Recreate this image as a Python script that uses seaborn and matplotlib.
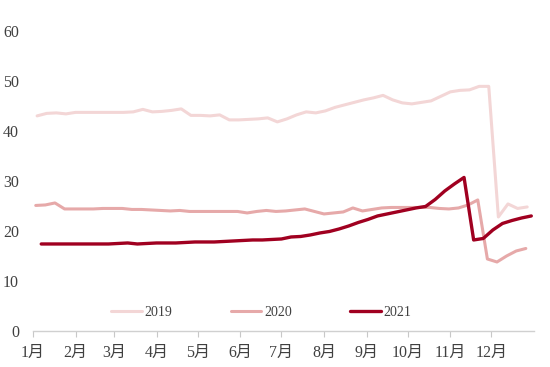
import matplotlib
matplotlib.use("Agg")
import matplotlib.pyplot as plt
import numpy as np
import pandas as pd
import seaborn as sns

# weekly data, first observation date of each year
start_dates = {"2019": "2019-01-04", "2020": "2020-01-03", "2021": "2021-01-07"}

v2019 = [43.0, 43.5, 43.6, 43.4, 43.7, 43.7, 43.7, 43.7, 43.7, 43.7,
         43.8, 44.3, 43.8, 43.9, 44.1, 44.4, 43.1, 43.1, 43.0, 43.2,
         42.2, 42.2, 42.3, 42.4, 42.6, 41.8, 42.4, 43.2, 43.8, 43.6,
         44.0, 44.7, 45.2, 45.7, 46.2, 46.6, 47.1, 46.2, 45.6, 45.4,
         45.7, 46.0, 46.9, 47.8, 48.1, 48.2, 48.9, 48.9, 22.8, 25.4,
         24.5, 24.8]
v2020 = [25.1, 25.2, 25.6, 24.4, 24.4, 24.4, 24.4, 24.5, 24.5, 24.5,
         24.3, 24.3, 24.2, 24.1, 24.0, 24.1, 23.9, 23.9, 23.9, 23.9,
         23.9, 23.9, 23.6, 23.9, 24.1, 23.9, 24.0, 24.2, 24.4, 23.9,
         23.4, 23.6, 23.8, 24.6, 24.0, 24.3, 24.6, 24.7, 24.7, 24.7,
         24.7, 24.7, 24.5, 24.4, 24.6, 25.2, 26.2, 14.4, 13.8, 15.0,
         16.0, 16.5]
v2021 = [17.4, 17.4, 17.4, 17.4, 17.4, 17.4, 17.4, 17.4, 17.5, 17.6,
         17.4, 17.5, 17.6, 17.6, 17.6, 17.7, 17.8, 17.8, 17.8, 17.9,
         18.0, 18.1, 18.2, 18.2, 18.3, 18.4, 18.8, 18.9, 19.2, 19.6,
         19.9, 20.4, 21.0, 21.7, 22.3, 23.0, 23.4, 23.8, 24.2, 24.6,
         24.9, 26.3, 28.0, 29.4, 30.7, 18.2, 18.5, 20.2, 21.5, 22.1,
         22.6, 23.0]

month_labels = [f"{m}月" for m in range(1, 13)]
colors = {"2019": "#f3d6d6", "2020": "#e6a9a9", "2021": "#a00020"}
widths = {"2019": 2.2, "2020": 2.2, "2021": 2.4}

values = {"2019": v2019, "2020": v2020, "2021": v2021}
frames = []
for year, vals in values.items():
    dates = pd.date_range(start_dates[year], periods=len(vals), freq="7D")
    frames.append(pd.DataFrame({"day": dates.dayofyear - 1, "value": vals, "year": year}))
df = pd.concat(frames, ignore_index=True)

sns.set_theme(style="white")
serif = ["Liberation Serif", "Noto Sans CJK SC", "DejaVu Sans"]
plt.rcParams["font.family"] = serif

fig = plt.figure(figsize=(5.5, 3.67), dpi=100)
ax = fig.add_axes([0.06, 0.098, 0.911, 0.818])

for year in values:
    sub = df[df["year"] == year]
    sns.lineplot(data=sub, x="day", y="value", ax=ax, color=colors[year],
                 linewidth=widths[year], label=year)

month_starts = pd.date_range("2021-01-01", periods=12, freq="MS").dayofyear - 1
ax.set_xticks(month_starts)
ax.set_xticklabels(month_labels, fontsize=11.5, color="#404040")
ax.set_xlim(0, 365)
ax.set_ylim(0, 60)
ax.set_yticks(range(0, 61, 10))
ax.tick_params(axis="y", labelsize=11.5, labelcolor="#404040", length=0, pad=10)
ax.tick_params(axis="x", bottom=True, direction="out", length=4, width=0.8,
               color="#c8c8c8", pad=6)
ax.set_xlabel("")
ax.set_ylabel("")
for s in ["top", "right", "left"]:
    ax.spines[s].set_visible(False)
ax.spines["bottom"].set_color("#d0d0d0")
ax.spines["bottom"].set_linewidth(1.0)

ax.legend(loc="center", bbox_to_anchor=(0.456, 0.062), ncol=3, frameon=False,
          fontsize=10, handlelength=2.2, handletextpad=0.2, columnspacing=4.2,
          labelcolor="#404040")

fig.savefig("out.png", dpi=100)
